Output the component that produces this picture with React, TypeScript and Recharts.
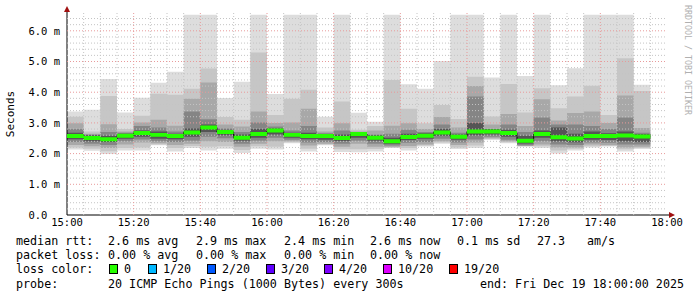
import React from "react";
import { ComposedChart, Area, Line, XAxis, YAxis, CartesianGrid } from "recharts";

// minutes after 15:00, one smoke column per 5 minute step
const binMinutes = [0, 5, 10, 15, 20, 25, 30, 35, 40, 45, 50, 55, 60, 65, 70, 75, 80, 85, 90, 95, 100, 105, 110, 115, 120, 125, 130, 135, 140, 145, 150, 155, 160, 165, 170];

// rtt in ms, from outer smoke (lightest) to median
const rttMax = [3.37, 3.43, 4.43, 3.34, 3.82, 4.31, 4.67, 6.52, 6.52, 3.81, 4.34, 6.52, 3.94, 6.52, 6.52, 3.2, 6.52, 3.33, 3.04, 6.52, 4.26, 4.11, 5.02, 6.52, 6.52, 4.48, 6.52, 4.53, 6.52, 4.23, 4.78, 6.52, 6.52, 6.52, 4.24];
const rttHi2 = [3.2, 2.72, 3.88, 2.8, 3.23, 3.95, 3.92, 4.11, 4.77, 3.19, 3.1, 5.29, 3.26, 3.79, 4.08, 2.85, 3.7, 2.78, 2.9, 4.4, 3.46, 2.99, 3.58, 3.13, 4.5, 3.21, 4.27, 3.34, 4.13, 3.48, 3.86, 4.21, 3.26, 5.11, 4.04];
const rttHi3 = [2.99, 2.65, 2.96, 2.72, 3.01, 3.1, 2.91, 3.79, 4.32, 2.95, 2.88, 3.37, 3.0, 3.01, 3.46, 2.72, 2.99, 2.72, 2.75, 2.91, 2.99, 2.8, 3.19, 2.85, 4.2, 2.95, 3.29, 2.9, 3.77, 3.08, 3.32, 3.37, 3.0, 3.89, 2.83];
const rttHi4 = [2.8, 2.62, 2.7, 2.68, 2.9, 2.85, 2.72, 3.37, 3.12, 2.82, 2.7, 3.01, 2.88, 2.75, 2.9, 2.65, 2.75, 2.7, 2.62, 2.65, 2.78, 2.7, 2.95, 2.68, 3.86, 2.8, 2.95, 2.7, 3.18, 2.95, 2.95, 2.9, 2.8, 3.18, 2.68];
const rttHi5 = [2.68, 2.6, 2.58, 2.65, 2.75, 2.72, 2.65, 2.82, 2.95, 2.78, 2.62, 2.8, 2.82, 2.68, 2.68, 2.65, 2.62, 2.7, 2.6, 2.52, 2.65, 2.66, 2.8, 2.62, 3.0, 2.8, 2.78, 2.58, 2.75, 2.85, 2.65, 2.72, 2.66, 2.72, 2.64];
const rttMedian = [2.57, 2.51, 2.47, 2.58, 2.67, 2.61, 2.57, 2.69, 2.85, 2.7, 2.52, 2.64, 2.75, 2.61, 2.57, 2.57, 2.51, 2.64, 2.52, 2.4, 2.54, 2.58, 2.69, 2.55, 2.72, 2.72, 2.67, 2.42, 2.64, 2.53, 2.49, 2.57, 2.57, 2.59, 2.56];
const rttLo5 = [2.47, 2.4, 2.38, 2.48, 2.55, 2.48, 2.47, 2.55, 2.7, 2.6, 2.42, 2.52, 2.62, 2.52, 2.47, 2.45, 2.41, 2.52, 2.42, 2.32, 2.44, 2.48, 2.58, 2.45, 2.6, 2.62, 2.55, 2.33, 2.52, 2.4, 2.37, 2.45, 2.44, 2.4, 2.38];
const rttLo4 = [2.38, 2.32, 2.28, 2.4, 2.46, 2.4, 2.38, 2.42, 2.55, 2.5, 2.32, 2.42, 2.52, 2.45, 2.36, 2.38, 2.32, 2.42, 2.32, 2.26, 2.35, 2.38, 2.48, 2.36, 2.46, 2.55, 2.45, 2.27, 2.4, 2.3, 2.28, 2.36, 2.35, 2.3, 2.3];
const rttLo3 = [2.28, 2.24, 2.18, 2.3, 2.36, 2.34, 2.28, 2.32, 2.4, 2.38, 2.22, 2.32, 2.4, 2.4, 2.26, 2.32, 2.22, 2.32, 2.22, 2.22, 2.25, 2.3, 2.4, 2.28, 2.36, 2.5, 2.4, 2.25, 2.3, 2.2, 2.2, 2.3, 2.28, 2.2, 2.22];
const rttLo2 = [2.2, 2.16, 2.08, 2.18, 2.2, 2.3, 2.18, 2.25, 2.22, 2.24, 2.12, 2.24, 2.22, 2.37, 2.16, 2.3, 2.14, 2.14, 2.15, 2.2, 2.18, 2.26, 2.36, 2.2, 2.26, 2.47, 2.37, 2.24, 2.24, 2.1, 2.16, 2.24, 2.25, 2.14, 2.18];
const rttMin = [2.13, 2.09, 1.99, 2.1, 2.1, 2.27, 2.07, 2.18, 2.1, 2.16, 2.02, 2.16, 2.13, 2.34, 2.07, 2.27, 2.05, 2.04, 2.07, 2.18, 2.1, 2.23, 2.32, 2.15, 2.18, 2.45, 2.34, 2.23, 2.18, 2.0, 2.1, 2.2, 2.23, 2.07, 2.15];

const xTicks = [0, 20, 40, 60, 80, 100, 120, 140, 160, 180];
const xTickLabels = ["15:00", "15:20", "15:40", "16:00", "16:20", "16:40", "17:00", "17:20", "17:40", "18:00"];
const yTicks = [0, 1, 2, 3, 4, 5, 6];
const yTickLabels = ["0.0\u00a0\u00a0", "1.0 m", "2.0 m", "3.0 m", "4.0 m", "5.0 m", "6.0 m"];

const rttLegend = [
  { x: 16, text: "median rtt:" },
  { x: 108, text: "2.6 ms avg" },
  { x: 196, text: "2.9 ms max" },
  { x: 284, text: "2.4 ms min" },
  { x: 370, text: "2.6 ms now" },
  { x: 457, text: "0.1 ms sd" },
  { x: 537, text: "27.3" },
  { x: 587, text: "am/s" },
];
const lossLegend = [
  { x: 16, text: "packet loss:" },
  { x: 108, text: "0.00 % avg" },
  { x: 196, text: "0.00 % max" },
  { x: 284, text: "0.00 % min" },
  { x: 370, text: "0.00 % now" },
];
const lossColors = [
  { x: 109, label: "0", color: "#26ff00" },
  { x: 148, label: "1/20", color: "#00b8ff" },
  { x: 207, label: "2/20", color: "#0059ff" },
  { x: 266, label: "3/20", color: "#5e00ff" },
  { x: 324, label: "4/20", color: "#7e00ff" },
  { x: 383, label: "10/20", color: "#dd00ff" },
  { x: 449, label: "19/20", color: "#ff0000" },
];

const rows = binMinutes.map((t, i) => ({
  t,
  max: rttMax[i], hi2: rttHi2[i], hi3: rttHi3[i], hi4: rttHi4[i], hi5: rttHi5[i],
  med: rttMedian[i],
  lo5: rttLo5[i], lo4: rttLo4[i], lo3: rttLo3[i], lo2: rttLo2[i], min: rttMin[i],
}));
// step charts need a closing point at the end of the last interval
const last = rows[rows.length - 1];
const data = [...rows, { ...last, t: last.t + 5 }];

const minorX = Array.from({ length: 36 }, (_, i) => i * 5).filter((v) => v % 20 !== 0);
const majorX = [20, 40, 60, 80, 100, 120, 140, 160];
const minorY = Array.from({ length: 33 }, (_, i) => +(i * 0.2).toFixed(1)).filter((v) => v % 1 !== 0);
const majorY = [1, 2, 3, 4, 5, 6];

const mono = "'DejaVu Sans Mono', monospace";

const smoke = [
  { lo: "min", hi: "max", fill: "#dddddd" },
  { lo: "lo2", hi: "hi2", fill: "#c6c6c6" },
  { lo: "lo3", hi: "hi3", fill: "#a8a8a8" },
  { lo: "lo4", hi: "hi4", fill: "#858585" },
  { lo: "lo5", hi: "hi5", fill: "#555555" },
];

export default function App() {
  return (
    <div style={{ position: "fixed", left: 0, top: 0, width: 697, height: 297, background: "#fff" }}>
      <ComposedChart width={697} height={297} data={data} margin={{ top: 13, right: 30, bottom: 62, left: 0 }}>
        <XAxis
          dataKey="t"
          type="number"
          height={20}
          domain={[0, 180]}
          ticks={xTicks}
          tickFormatter={(v) => xTickLabels[xTicks.indexOf(v)]}
          tickLine={false}
          tickSize={0}
          tickMargin={4}
          axisLine={{ stroke: "#000" }}
          tick={{ fill: "#000", fontFamily: mono, fontSize: 10.5 }}
          interval={0}
        />
        <YAxis
          type="number"
          width={67}
          domain={[0, 6.58]}
          ticks={yTicks}
          allowDataOverflow
          tickFormatter={(v) => yTickLabels[yTicks.indexOf(v)]}
          tickLine={false}
          tickSize={0}
          tickMargin={7}
          axisLine={{ stroke: "#000" }}
          tick={{ fill: "#000", fontFamily: mono, fontSize: 10.5 }}
          interval={0}
        />
        {smoke.map((s) => (
          <Area
            key={s.hi}
            type="stepAfter"
            dataKey={(d: any) => [d[s.lo], d[s.hi]]}
            fill={s.fill}
            fillOpacity={1}
            stroke="none"
            isAnimationActive={false}
          />
        ))}
        <CartesianGrid stroke="#c4c4c4" strokeDasharray="1 2" horizontalValues={minorY} verticalValues={minorX} zIndex={700} />
        <CartesianGrid stroke="#e89a9a" strokeDasharray="1 2" horizontalValues={majorY} verticalValues={majorX} zIndex={700} />
        <Line type="stepAfter" dataKey="med" stroke="#000" strokeWidth={1} dot={false} isAnimationActive={false} zIndex={800} />
        <Area
          type="stepAfter"
          dataKey={(d: any) => [d.med - 0.065, d.med + 0.065]}
          fill="#26ff00"
          fillOpacity={1}
          stroke="none"
          isAnimationActive={false}
          zIndex={900}
        />
      </ComposedChart>
      <svg width={697} height={297} style={{ position: "absolute", left: 0, top: 0, pointerEvents: "none" }}>
        <line x1={67} y1={13} x2={67} y2={8} stroke="#000" />
        <polygon points="64,12 70,12 67,6" fill="#a01010" />
        <line x1={667} y1={215} x2={672} y2={215} stroke="#000" />
        <polygon points="669,212 669,218 675,215" fill="#a01010" />
        <text x={10} y={114} transform="rotate(-90 10 114)" textAnchor="middle" dominantBaseline="central" fontFamily={mono} fontSize={11} fill="#000">
          Seconds
        </text>
        <text x={688} y={5} transform="rotate(90 688 5)" dominantBaseline="central" fontFamily={mono} fontSize={8.3} fill="#b0b0b0">
          RRDTOOL / TOBI OETIKER
        </text>
        {rttLegend.map((l) => (
          <text key={l.text} x={l.x} y={245} fontFamily={mono} fontSize={11.7} fill="#000">{l.text}</text>
        ))}
        {lossLegend.map((l) => (
          <text key={l.text} x={l.x} y={259} fontFamily={mono} fontSize={11.7} fill="#000">{l.text}</text>
        ))}
        <text x={16} y={273} fontFamily={mono} fontSize={11.7} fill="#000">loss color:</text>
        {lossColors.map((c) => (
          <g key={c.label}>
            <rect x={c.x + 0.5} y={264.5} width={8} height={9} fill={c.color} stroke="#000" />
            <text x={c.x + 15} y={273} fontFamily={mono} fontSize={11.7} fill="#000">{c.label}</text>
          </g>
        ))}
        <text x={16} y={288} fontFamily={mono} fontSize={11.7} fill="#000">probe:</text>
        <text x={108} y={288} fontFamily={mono} fontSize={11.7} fill="#000">20 ICMP Echo Pings (1000 Bytes) every 300s</text>
        <text x={684} y={288} textAnchor="end" fontFamily={mono} fontSize={11.7} fill="#000">end: Fri Dec 19 18:00:00 2025</text>
      </svg>
    </div>
  );
}
